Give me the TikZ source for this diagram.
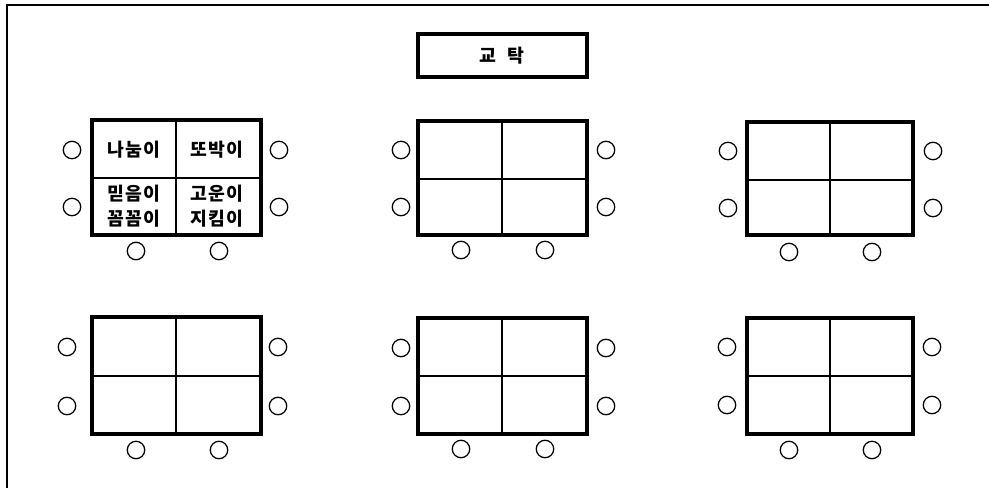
\documentclass[tikz,border=0pt]{standalone}
\usepackage{fontspec}
\newfontfamily\kr[LetterSpace=8]{Noto Sans CJK KR}
\usepackage{tikz}
\tikzset{
  desk/.style={line width=2.4pt},
  seam/.style={line width=1.2pt},
  seat/.style={line width=0.9pt},
  lbl/.style={font=\kr\bfseries\fontsize{13}{18}\selectfont,align=center,inner sep=0pt},
}

\begin{document}
\begin{tikzpicture}[x=0.025cm,y=-0.025cm]
\useasboundingbox (0,0) rectangle (989,488);
\draw[line width=1.1pt] (7,488) -- (7,5) -- (989,5);
% teacher's desk
\draw[desk] (418,34) rectangle (587,77);
\node[lbl] (gyotak) at (502,56) {교\ \ 탁};
% top row
\draw[desk] (92,120) rectangle (261,235);
\draw[seam] (176,120) -- (176,235) (92,178) -- (261,178);
\draw[seat] (72,150) circle[radius=6.2pt] (72,207) circle[radius=6.2pt] (279,150) circle[radius=6.2pt] (279,207) circle[radius=6.2pt] (136,251) circle[radius=6.2pt] (219,251) circle[radius=6.2pt];
\node[lbl] (nanum) at (134,150) {나눔이};
\node[lbl] (ttobak) at (217,150) {또박이};
\node[lbl] (mideum) at (134,206) {믿음이\\꼼꼼이};
\node[lbl] (goun) at (217,206) {고운이\\지킴이};
\draw[desk] (418,121) rectangle (587,235);
\draw[seam] (502,121) -- (502,235) (418,179) -- (587,179);
\draw[seat] (401,150) circle[radius=6.2pt] (401,207) circle[radius=6.2pt] (606,150) circle[radius=6.2pt] (606,207) circle[radius=6.2pt] (461,250) circle[radius=6.2pt] (545,250) circle[radius=6.2pt];
\draw[desk] (747,122) rectangle (913,235);
\draw[seam] (830,122) -- (830,235) (747,180) -- (913,180);
\draw[seat] (728,151) circle[radius=6.2pt] (728,208) circle[radius=6.2pt] (933,151) circle[radius=6.2pt] (933,208) circle[radius=6.2pt] (789,252) circle[radius=6.2pt] (872,252) circle[radius=6.2pt];
% bottom row
\draw[desk] (92,317) rectangle (261,434);
\draw[seam] (176,317) -- (176,434) (92,376) -- (261,376);
\draw[seat] (67,347) circle[radius=6.2pt] (67,406) circle[radius=6.2pt] (278,347) circle[radius=6.2pt] (278,406) circle[radius=6.2pt] (136,450) circle[radius=6.2pt] (219,450) circle[radius=6.2pt];
\draw[desk] (418,318) rectangle (587,434);
\draw[seam] (502,318) -- (502,434) (418,376) -- (587,376);
\draw[seat] (401,348) circle[radius=6.2pt] (401,406) circle[radius=6.2pt] (606,348) circle[radius=6.2pt] (606,406) circle[radius=6.2pt] (461,449) circle[radius=6.2pt] (545,449) circle[radius=6.2pt];
\draw[desk] (747,318) rectangle (913,434);
\draw[seam] (830,318) -- (830,434) (747,376) -- (913,376);
\draw[seat] (727,347) circle[radius=6.2pt] (727,405) circle[radius=6.2pt] (932,347) circle[radius=6.2pt] (932,405) circle[radius=6.2pt] (789,450) circle[radius=6.2pt] (872,450) circle[radius=6.2pt];
\end{tikzpicture}
\end{document}
